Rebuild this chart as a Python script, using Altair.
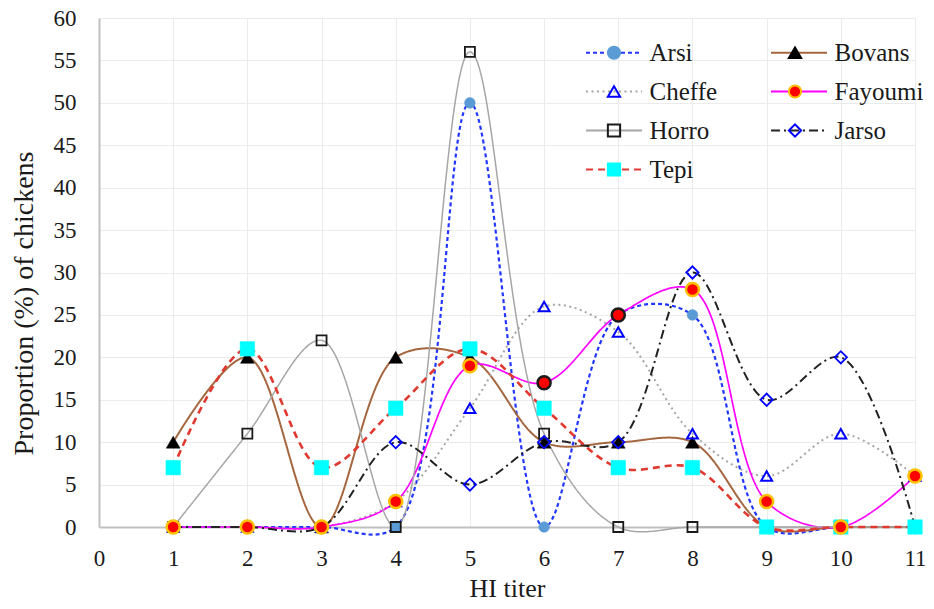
import altair as alt
import pandas as pd

# ---- data ----
titers = [1, 2, 3, 4, 5, 6, 7, 8, 9, 10, 11]
breeds = ["Arsi", "Bovans", "Cheffe", "Fayoumi", "Horro", "Jarso", "Tepi"]

arsi    = [0, 0, 0, 0, 50, 0, 25, 25, 0, 0, 0]
bovans  = [10, 20, 0, 20, 20, 10, 10, 10, 0, 0, 0]
cheffe  = [0, 0, 0, 3, 14, 26, 23, 11, 6, 11, 6]
fayoumi = [0, 0, 0, 3, 19, 17, 25, 28, 3, 0, 6]
horro   = [0, 11, 22, 0, 56, 11, 0, 0, 0, 0, 0]
jarso   = [0, 0, 0, 10, 5, 10, 10, 30, 15, 20, 0]
tepi    = [7, 21, 7, 14, 21, 14, 7, 7, 0, 0, 0]

# Fayoumi points drawn with a dark outline in the reference
fayoumi_dark_outline = [6, 7]

series = {"Arsi": arsi, "Bovans": bovans, "Cheffe": cheffe, "Fayoumi": fayoumi,
          "Horro": horro, "Jarso": jarso, "Tepi": tepi}

# ---- styles ----
line_colors = ["#2236ff", "#a5673f", "#a6a6a6", "#ff00ff", "#a6a6a6", "#222222", "#e03a30"]
line_dashes = [[4, 3], [1, 0], [2, 3.5], [1, 0], [1, 0], [9, 4, 2, 4], [7, 5]]
line_widths = {"Arsi": 2.2, "Bovans": 2, "Cheffe": 2, "Fayoumi": 1.7, "Horro": 1.5, "Jarso": 2, "Tepi": 2.6}

marker_shapes = ["circle", "triangle-up", "triangle-up", "circle", "square", "diamond", "square"]
marker_fills = ["#5b9bd5", "#000000", "transparent", "#ff0000", "transparent", "transparent", "#00ffff"]
marker_strokes = ["#5b9bd5", "#000000", "#0000ff", "#ffc000", "#1a1a1a", "#0000ff", "#00ffff"]
marker_sizes = {"Arsi": 115, "Bovans": 190, "Cheffe": 120, "Fayoumi": 170, "Horro": 100, "Jarso": 150, "Tepi": 210}
marker_sw = {"Arsi": 0.5, "Bovans": 0.5, "Cheffe": 2, "Fayoumi": 2.5, "Horro": 1.8, "Jarso": 1.8, "Tepi": 0.5}
point_order = ["Arsi", "Bovans", "Cheffe", "Horro", "Jarso", "Tepi", "Fayoumi"]

line_rows = []
for b in breeds:
    for t, v in zip(titers, series[b]):
        line_rows.append({"titer": t, "value": v, "breed": b, "lw": line_widths[b]})
line_df = pd.DataFrame(line_rows)

pt_rows = []
for b in point_order:
    for t, v in zip(titers, series[b]):
        dark = (b == "Fayoumi") and (t in fayoumi_dark_outline)
        pt_rows.append({"titer": t, "value": v, "breed": b,
                        "msize": marker_sizes[b], "msw": marker_sw[b], "dark": dark})
pt_df = pd.DataFrame(pt_rows)

FONT = "Liberation Serif, Times New Roman, Tinos, DejaVu Serif, serif"

x_enc = alt.X("titer:Q",
              scale=alt.Scale(domain=[0, 11], nice=False, zero=False),
              axis=alt.Axis(title="HI titer", values=list(range(0, 12)), format="d",
                            ticks=False, labelPadding=20, labelFontSize=23, labelFlush=False,
                            titleFontSize=26, titleFontWeight="normal",
                            titleX=408, titleY=74, titleBaseline="bottom"))
y_enc = alt.Y("value:Q",
              scale=alt.Scale(domain=[0, 60], nice=False),
              axis=alt.Axis(title="Proportion (%) of chickens", values=list(range(0, 61, 5)),
                            ticks=False, labelPadding=23, labelFontSize=23, labelFlush=False,
                            titleFontSize=28, titleFontWeight="normal",
                            titleX=-75, titleY=285, titleBaseline="middle"))

leg_common = dict(title=None, orient="none", legendX=487, legendY=22, columns=2,
                  direction="horizontal",
                  symbolSize=100, symbolOffset=15.5, labelOffset=23,
                  labelFont=FONT, labelFontSize=25, labelColor="#1a1a1a",
                  rowPadding=13, columnPadding=49, padding=0)

line_legend = alt.Legend(symbolType="M-5.6,0L5.6,0", symbolStrokeWidth=2, **leg_common)
pt_common = dict(leg_common)
pt_common["symbolSize"] = 150
point_legend = alt.Legend(symbolStrokeWidth=2, labelOpacity=0, **pt_common)

lines = alt.Chart(line_df).mark_line(interpolate="catmull-rom", strokeCap="butt").encode(
    x=x_enc, y=y_enc,
    color=alt.Color("breed:N", scale=alt.Scale(domain=breeds, range=line_colors), legend=line_legend),
    strokeDash=alt.StrokeDash("breed:N", scale=alt.Scale(domain=breeds, range=line_dashes), legend=line_legend),
    strokeWidth=alt.StrokeWidth("lw:Q", scale=None, legend=None),
)

points = alt.Chart(pt_df).mark_point(opacity=1).encode(
    x=x_enc, y=y_enc,
    shape=alt.Shape("breed:N", scale=alt.Scale(range=marker_shapes), legend=point_legend),
    fill=alt.Fill("breed:N", scale=alt.Scale(range=marker_fills), legend=point_legend),
    stroke=alt.condition("datum.dark === true", alt.value("#1a1a1a"),
                         alt.Stroke("breed:N", scale=alt.Scale(range=marker_strokes), legend=point_legend)),
    size=alt.Size("msize:Q", scale=None, legend=None),
    strokeWidth=alt.StrokeWidth("msw:Q", scale=None, legend=None),
)

chart = alt.layer(lines, points).properties(
    width=816, height=509, autosize="none",
    padding={"left": 91, "top": 10, "right": 11, "bottom": 74},
).configure_view(stroke=None).configure_axis(
    labelFont=FONT, titleFont=FONT, labelColor="#1a1a1a", titleColor="#1a1a1a",
    gridColor="#ebebeb", gridWidth=1, domainColor="#c0c0c0", domainWidth=2,
)

chart.save("out.html", embed_options={"renderer": "svg", "actions": False})
